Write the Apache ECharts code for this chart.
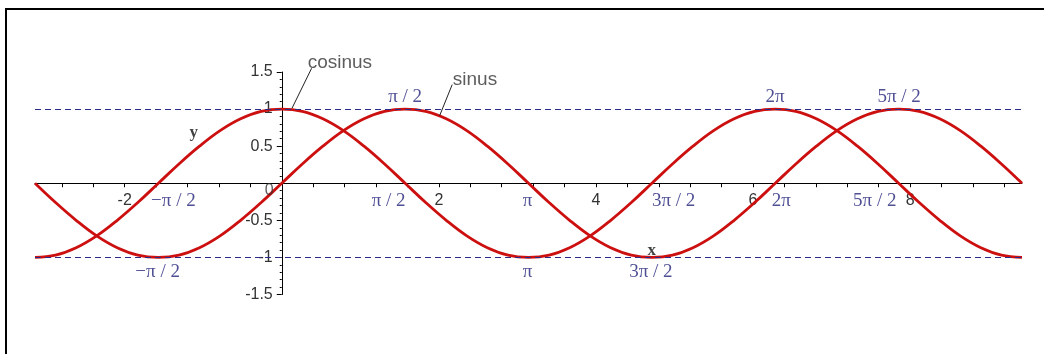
<!DOCTYPE html>
<html>
<head>
<meta charset="utf-8">
<title>sinus / cosinus</title>
<script src="https://cdn.jsdelivr.net/npm/echarts@6/dist/echarts.min.js"></script>
<style>
  html, body { margin: 0; padding: 0; background: #ffffff; }
  #chart { width: 1044px; height: 354px; }
</style>
</head>
<body>
<div id="chart"></div>
<script>
// Sample angles (degrees) from -180 to 540, every 15 degrees
const angles = [-180, -165, -150, -135, -120, -105, -90, -75, -60, -45, -30, -15,
  0, 15, 30, 45, 60, 75, 90, 105, 120, 135, 150, 165,
  180, 195, 210, 225, 240, 255, 270, 285, 300, 315, 330, 345,
  360, 375, 390, 405, 420, 435, 450, 465, 480, 495, 510, 525, 540];

const sinValues = [0, -0.26, -0.5, -0.71, -0.87, -0.97, -1, -0.97, -0.87, -0.71, -0.5, -0.26,
  0, 0.26, 0.5, 0.71, 0.87, 0.97, 1, 0.97, 0.87, 0.71, 0.5, 0.26,
  0, -0.26, -0.5, -0.71, -0.87, -0.97, -1, -0.97, -0.87, -0.71, -0.5, -0.26,
  0, 0.26, 0.5, 0.71, 0.87, 0.97, 1, 0.97, 0.87, 0.71, 0.5, 0.26, 0];

const cosValues = [-1, -0.97, -0.87, -0.71, -0.5, -0.26, 0, 0.26, 0.5, 0.71, 0.87, 0.97,
  1, 0.97, 0.87, 0.71, 0.5, 0.26, 0, -0.26, -0.5, -0.71, -0.87, -0.97,
  -1, -0.97, -0.87, -0.71, -0.5, -0.26, 0, 0.26, 0.5, 0.71, 0.87, 0.97,
  1, 0.97, 0.87, 0.71, 0.5, 0.26, 0, -0.26, -0.5, -0.71, -0.87, -0.97, -1];

// Axis ticks and labels
const xTickValues = [-2.8, -2.4, -2, -1.6, -1.2, -0.8, -0.4, 0, 0.4, 0.8, 1.2, 1.6, 2, 2.4, 2.8,
  3.2, 3.6, 4, 4.4, 4.8, 5.2, 5.6, 6, 6.4, 6.8, 7.2, 7.6, 8, 8.4, 8.8, 9.2];
const xLabelValues = [-2, 2, 4, 6, 8];
const levelLines = [1, -1];

// Multiples of pi written next to the curves (text, x, y in data units)
const piTopRow = [['π / 2', 1.57], ['2π', 6.28], ['5π / 2', 7.86]];
const piAxisRow = [['−π / 2', -1.38], ['π / 2', 1.36], ['π', 3.13], ['3π / 2', 4.99], ['2π', 6.36], ['5π / 2', 7.55]];
const piBottomRow = [['−π / 2', -1.58], ['π', 3.13], ['3π / 2', 4.70]];

const toRad = d => d * Math.PI / 180;
const sinData = angles.map((d, i) => [toRad(d), sinValues[i]]);
const cosData = angles.map((d, i) => [toRad(d), cosValues[i]]);

const blue = '#23237a';
const dashBlue = '#2a2a88';
const red = '#cc1010';
const piFont = { fontFamily: 'Liberation Serif', fontSize: 19, color: blue };

function textItem(text, x, y, style) {
  return {
    value: [x, y],
    label: Object.assign({ show: true, position: 'inside', formatter: text }, style)
  };
}

const annotations = []
  .concat(piTopRow.map(p => textItem(p[0], p[1], 1.16, piFont)))
  .concat(piAxisRow.map(p => textItem(p[0], p[1], -0.24, piFont)))
  .concat(piBottomRow.map(p => textItem(p[0], p[1], -1.2, piFont)))
  .concat([
    textItem('cosinus', 0.74, 1.62, { fontFamily: 'Liberation Sans', fontSize: 19, color: '#333' }),
    textItem('sinus', 2.46, 1.39, { fontFamily: 'Liberation Sans', fontSize: 19, color: '#333' }),
    textItem('y', -1.12, 0.68, { fontFamily: 'Liberation Serif', fontSize: 17, fontWeight: 'bold', color: '#111' }),
    textItem('x', 4.71, -0.91, { fontFamily: 'Liberation Serif', fontSize: 17, fontWeight: 'bold', color: '#111' }),
    textItem('0', -0.16, -0.1, { fontFamily: 'Liberation Sans', fontSize: 16, color: '#333' })
  ]);

// Leader lines from the curve names to their curves
const cosLeader = [[0.38, 1.55], [0.13, 1.01]];
const sinLeader = [[2.17, 1.33], [2.01, 0.91]];

// Plot area: x runs from -pi to 3*pi, y from -1.5 to 1.5
const gridLeft = 35, gridRight = 22, gridTop = 72, gridBottom = 59.5;
const plotW = 1044 - gridLeft - gridRight;
const plotH = 354 - gridTop - gridBottom;
const xMin = -Math.PI, xMax = 3 * Math.PI, yMin = -1.5, yMax = 1.5;
// shift the axes so they cross at the origin
const xAxisOffset = -plotH * (0 - yMin) / (yMax - yMin);
const yAxisOffset = -plotW * (0 - xMin) / (xMax - xMin);

const chart = echarts.init(document.getElementById('chart'), null, { renderer: 'canvas' });

chart.setOption({
  backgroundColor: '#ffffff',
  animation: false,
  grid: { left: gridLeft, right: gridRight, top: gridTop, bottom: gridBottom, containLabel: false },
  graphic: [{
    type: 'rect',
    shape: { x: 6, y: 9, width: 1200, height: 500 },
    style: { fill: 'none', stroke: '#000', lineWidth: 2 },
    silent: true
  }],
  xAxis: {
    type: 'value',
    position: 'bottom',
    offset: xAxisOffset,
    min: xMin,
    max: xMax,
    splitLine: { show: false },
    axisLine: { onZero: false, lineStyle: { color: '#000', width: 1 } },
    axisTick: { show: true, length: 4, customValues: xTickValues, lineStyle: { color: '#000' } },
    axisLabel: {
      customValues: xLabelValues,
      margin: 9,
      color: '#333',
      fontFamily: 'Liberation Sans',
      fontSize: 16
    }
  },
  yAxis: {
    type: 'value',
    position: 'left',
    offset: yAxisOffset,
    min: yMin,
    max: yMax,
    interval: 0.5,
    splitLine: { show: false },
    axisLine: { onZero: false, lineStyle: { color: '#000', width: 1 } },
    axisTick: { show: true, length: 5, lineStyle: { color: '#000' } },
    minorTick: { show: true, splitNumber: 5, length: 2, lineStyle: { color: '#000' } },
    minorSplitLine: { show: false },
    axisLabel: {
      margin: 9,
      color: '#333',
      fontFamily: 'Liberation Sans',
      fontSize: 16,
      formatter: v => (v === 0 ? '' : String(v))
    }
  },
  series: [
    {
      name: 'cosinus',
      type: 'line',
      data: cosData,
      smooth: 0.4,
      showSymbol: false,
      lineStyle: { color: red, width: 2.8 },
      z: 3
    },
    {
      name: 'sinus',
      type: 'line',
      data: sinData,
      smooth: 0.4,
      showSymbol: false,
      lineStyle: { color: red, width: 2.8 },
      z: 3
    },
    {
      name: 'levels',
      type: 'line',
      data: [],
      z: 4,
      markLine: {
        silent: true,
        symbol: 'none',
        label: { show: false },
        lineStyle: { color: dashBlue, width: 1, type: [6, 4] },
        data: levelLines.map(v => ({ yAxis: v }))
      }
    },
    {
      name: 'cosLeader',
      type: 'line',
      data: cosLeader,
      clip: false,
      showSymbol: false,
      lineStyle: { color: '#222', width: 1 },
      z: 5
    },
    {
      name: 'sinLeader',
      type: 'line',
      data: sinLeader,
      clip: false,
      showSymbol: false,
      lineStyle: { color: '#222', width: 1 },
      z: 5
    },
    {
      name: 'labels',
      type: 'scatter',
      symbolSize: 0,
      clip: false,
      data: annotations,
      z: 6
    }
  ]
});
</script>
</body>
</html>
